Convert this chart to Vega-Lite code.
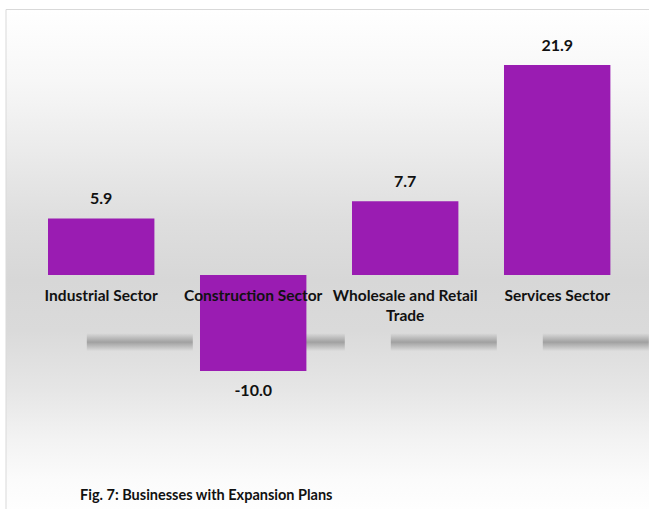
{
  "$schema": "https://vega.github.io/schema/vega-lite/v6.json",
  "width": 643.5,
  "height": 500,
  "autosize": {"type": "none"},
  "padding": {"left": 5.5, "top": 9, "right": 0, "bottom": 0},
  "background": "white",
  "config": {
    "view": {
      "stroke": "#d9d9d9",
      "strokeWidth": 1,
      "fill": {
        "gradient": "linear",
        "x1": 0, "y1": 0, "x2": 0, "y2": 1,
        "stops": [
          {"offset": 0, "color": "#ffffff"},
          {"offset": 0.142, "color": "#f7f7f7"},
          {"offset": 0.282, "color": "#ebebeb"},
          {"offset": 0.422, "color": "#dedede"},
          {"offset": 0.542, "color": "#d7d7d7"},
          {"offset": 0.642, "color": "#dadada"},
          {"offset": 0.762, "color": "#e6e6e6"},
          {"offset": 0.862, "color": "#f3f3f3"},
          {"offset": 0.942, "color": "#fbfbfb"},
          {"offset": 1, "color": "#fefefe"}
        ]
      }
    },
    "text": {"font": "Lato"}
  },
  "title": {
    "text": "Fig. 7: Businesses with Expansion Plans",
    "orient": "bottom",
    "anchor": "start",
    "frame": "group",
    "offset": -20,
    "dx": 74.5,
    "font": "Lato",
    "fontSize": 14.5,
    "fontWeight": "bold",
    "color": "#111111"
  },
  "data": {
    "values": [
      {"sector": "Industrial Sector", "value": 5.9},
      {"sector": "Construction Sector", "value": -10.0},
      {"sector": "Wholesale and Retail\nTrade", "value": 7.7},
      {"sector": "Services Sector", "value": 21.9}
    ]
  },
  "resolve": {"scale": {"x": "independent"}, "axis": {"x": "independent"}},
  "layer": [
    {
      "mark": {
        "type": "tick",
        "size": 106,
        "thickness": 18,
        "opacity": 1,
        "color": {
          "gradient": "linear",
          "x1": 0, "y1": 0, "x2": 0, "y2": 1,
          "stops": [
            {"offset": 0, "color": "rgba(150,150,150,0)"},
            {"offset": 0.5, "color": "rgba(150,150,150,0.85)"},
            {"offset": 1, "color": "rgba(150,150,150,0)"}
          ]
        }
      },
      "encoding": {
        "x": {"field": "sector", "type": "nominal", "sort": null, "axis": null,
              "scale": {"paddingInner": 0.3, "paddingOuter": 0.2668, "align": 1}},
        "y": {"datum": -7.0, "type": "quantitative", "axis": null,
              "scale": {"domain": [-24.4, 27.74], "nice": false, "zero": false}}
      }
    },
    {
      "layer": [
        {
          "mark": {"type": "bar", "color": "#9A1CB2"},
          "encoding": {
            "x": {"field": "sector", "type": "nominal", "sort": null, "axis": null,
                  "scale": {"paddingInner": 0.3, "paddingOuter": 0.2668, "align": 0.524}},
            "y": {"field": "value", "type": "quantitative", "axis": null,
                  "scale": {"domain": [-24.4, 27.74], "nice": false, "zero": false}}
          }
        },
        {
          "transform": [{"filter": "datum.value >= 0"}],
          "mark": {"type": "text", "dy": -19.5, "fontSize": 16, "fontWeight": "bold", "color": "#111111"},
          "encoding": {
            "x": {"field": "sector", "type": "nominal", "sort": null},
            "y": {"field": "value", "type": "quantitative"},
            "text": {"field": "value", "type": "quantitative", "format": ".1f"}
          }
        },
        {
          "transform": [{"filter": "datum.value < 0"}],
          "mark": {"type": "text", "dy": 20, "fontSize": 16, "fontWeight": "bold", "color": "#111111",
                   "text": {"expr": "replace(format(datum.value, '.1f'), '\u2212', '-')"}},
          "encoding": {
            "x": {"field": "sector", "type": "nominal", "sort": null},
            "y": {"field": "value", "type": "quantitative"}
          }
        },
        {
          "mark": {"type": "text", "baseline": "top", "dy": 13.5, "fontSize": 15.5, "fontWeight": "bold",
                   "lineBreak": "\n", "lineHeight": 20, "color": "#111111"},
          "encoding": {
            "x": {"field": "sector", "type": "nominal", "sort": null},
            "y": {"datum": 0, "type": "quantitative"},
            "text": {"field": "sector", "type": "nominal"}
          }
        }
      ]
    }
  ]
}
